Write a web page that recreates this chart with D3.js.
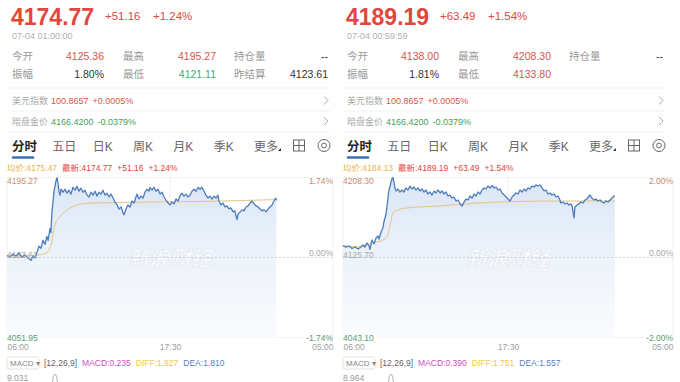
<!DOCTYPE html>
<html lang="zh">
<head>
<meta charset="UTF-8">
<title>分时</title>
<script src="https://cdn.jsdelivr.net/npm/d3@7"></script>
<style>
    body { margin: 0; background: #fff; }
    svg text { font-family: 'Liberation Sans', 'Noto Sans CJK SC', sans-serif; }
</style>
</head>
<body>
<div id="root"></div>
<script>
var width = 680
var height = 382

// minutes counted from 06:00 (session runs to 05:00 next day = 1380 min)
var leftMinutes = [0,13,25,38,51,63,76,89,102,110,118,127,135,144,152,161,169,174,182,186,
    190,195,199,203,207,212,216,220,224,229,237,246,254,262,271,279,288,296,305,313,
    322,330,339,347,356,364,373,381,390,398,406,415,423,432,440,449,457,466,474,483,
    491,495,504,512,521,529,538,546,550,559,567,576,584,593,601,605,614,622,631,639,
    648,656,665,673,682,690,698,707,715,724,732,741,749,758,766,775,783,792,800,809,
    817,825,834,842,851,859,868,876,885,893,897,906,914,923,931,940,948,957,965,969,
    974,978,987,995,1003,1012,1020,1029,1037,1046,1054,1063,1071,1080,1088,1097,1105,1113,1122,1130,
    1138,1140]
var leftPrices = [4125.4,4124.0,4126.5,4124.9,4127.6,4124.0,4125.8,4123.2,4121.1,4124.9,
    4123.2,4128.4,4133.7,4131.9,4139.0,4135.5,4142.5,4139.0,4149.6,4146.0,
    4163.6,4174.2,4183.0,4187.4,4191.8,4195.2,4190.0,4183.0,4179.5,4184.8,
    4182.1,4184.8,4181.2,4183.9,4180.4,4186.5,4183.9,4187.4,4183.0,4185.7,
    4182.1,4183.9,4179.5,4177.8,4182.1,4179.5,4183.0,4178.6,4182.1,4180.4,
    4183.9,4179.5,4181.2,4177.8,4180.4,4176.9,4173.3,4170.7,4167.1,4168.9,
    4163.6,4161.9,4167.1,4170.7,4168.9,4174.2,4172.4,4177.8,4180.4,4176.0,
    4178.6,4176.9,4182.1,4184.8,4183.0,4186.5,4183.9,4186.5,4183.0,4184.8,
    4180.4,4182.1,4177.8,4175.1,4172.4,4170.7,4173.3,4171.6,4176.0,4174.2,
    4178.6,4181.2,4178.6,4180.4,4177.8,4179.5,4183.0,4184.8,4183.0,4186.5,
    4184.8,4186.5,4183.0,4179.5,4176.9,4178.6,4176.0,4178.6,4176.9,4179.5,
    4174.2,4170.7,4172.4,4168.9,4169.8,4167.1,4168.0,4164.5,4165.4,4161.0,
    4157.5,4162.7,4164.5,4166.3,4165.4,4168.9,4169.8,4172.4,4174.2,4171.6,
    4169.8,4168.9,4167.1,4165.4,4166.3,4164.5,4167.1,4168.9,4170.7,4174.2,
    4176.9,4174.77]
var leftAvgMinutes = [0,60,131,174,186,195,203,224,254,296,339,478,817,1140]
var leftAvgPrices = [4125.4,4125.0,4125.8,4128.8,4134.8,4143.8,4152.7,4160.2,4166.2,4170.6,4172.2,4172.9,4173.8,4175.47]

var rightMinutes = [0,13,25,38,50,63,75,84,92,100,109,113,121,130,138,146,151,159,167,171,
    180,184,188,192,197,201,205,209,213,217,222,230,238,247,255,263,272,280,289,297,
    305,314,322,330,339,347,355,364,372,381,389,397,406,414,422,431,439,447,456,464,
    473,481,490,498,506,515,523,531,540,548,556,565,573,581,590,598,606,615,623,632,
    640,648,657,665,674,682,690,699,707,715,723,732,740,749,757,765,774,782,790,799,
    807,815,824,832,841,849,857,866,874,882,891,899,907,911,920,928,937,945,953,958,
    962,966,970,979,987,995,1004,1012,1020,1029,1033,1041,1050,1058,1066,1075,1083,1091,1100,1108,
    1117,1125,1133,1137]
var rightPrices = [4138.0,4136.5,4137.6,4135.0,4136.5,4134.5,4136.5,4138.6,4136.5,4140.7,
    4137.6,4134.0,4143.8,4139.6,4145.8,4147.9,4144.8,4152.0,4156.2,4162.4,
    4170.6,4178.9,4187.1,4195.4,4199.5,4203.7,4206.8,4208.3,4203.7,4197.5,
    4194.4,4196.4,4193.3,4195.4,4193.3,4197.5,4195.4,4199.5,4196.4,4198.5,
    4195.4,4197.5,4194.4,4196.4,4193.3,4195.4,4191.3,4193.3,4190.2,4194.4,
    4192.3,4195.4,4192.3,4194.4,4191.3,4193.3,4189.2,4190.2,4187.1,4188.2,
    4184.0,4185.1,4181.0,4178.9,4183.0,4186.1,4185.1,4189.2,4187.1,4191.3,
    4189.2,4193.3,4191.3,4195.4,4197.5,4196.4,4199.5,4197.5,4200.0,4197.5,
    4198.5,4195.4,4196.4,4192.3,4190.2,4188.2,4186.1,4184.0,4188.2,4190.2,
    4192.3,4191.3,4195.4,4193.3,4196.4,4194.4,4197.5,4196.4,4199.5,4198.5,
    4200.6,4199.5,4200.6,4197.5,4194.4,4195.4,4191.3,4192.3,4190.2,4191.3,
    4188.2,4189.2,4185.1,4182.0,4183.0,4181.0,4182.0,4179.9,4181.0,4178.9,
    4172.7,4166.5,4177.8,4179.9,4181.0,4183.0,4182.0,4185.1,4186.1,4189.2,
    4190.2,4187.1,4185.1,4186.1,4184.0,4185.1,4183.0,4182.0,4184.0,4183.0,
    4185.1,4187.1,4189.2,4189.19]
var rightAvgMinutes = [0,60,125,167,184,197,209,230,268,406,544,615,824,1137]
var rightAvgPrices = [4137.6,4136.8,4141.0,4143.8,4147.2,4159.3,4171.6,4174.7,4176.8,4178.9,4181.7,4182.7,4183.9,4184.13]

var timeTickMinutes = [0, 690, 1380]
var timeTickLabels = ['06:00', '17:30', '05:00']

var tabLabels = ['分时', '五日', '日K', '周K', '月K', '季K', '更多']
var statLabelsLeft = ['今开', '最高', '持仓量', '振幅', '最低', '昨结算']
var statLabelsRight = ['今开', '最高', '持仓量', '振幅', '最低', '']
var statValuesLeft = ['4125.36', '4195.27', '--', '1.80%', '4121.11', '4123.61']
var statValuesRight = ['4138.00', '4208.30', '--', '1.81%', '4133.80', '']

var indexRows = [
    ['美元指数', '100.8657', '+0.0005%'],
    ['暗盘金价', '4166.4200', '-0.0379%']
]

var leftQuote = ['4174.77', '+51.16', '+1.24%', '07-04 01:00:00', '4175.47']
var rightQuote = ['4189.19', '+63.49', '+1.54%', '07-04 00:59:59', '4184.13']

var leftPriceTicks = ['4195.27', '4123.61', '4051.95']
var leftPctTicks = ['1.74%', '0.00%', '-1.74%']
var rightPriceTicks = ['4208.30', '4125.70', '4043.10']
var rightPctTicks = ['2.00%', '0.00%', '-2.00%']

var leftMacd = ['MACD:0.235', 'DIFF:1.927', 'DEA:1.810', '9.031']
var rightMacd = ['MACD:0.390', 'DIFF:1.751', 'DEA:1.557', '8.964']

var red = '#e2463d'
var green = '#3f9f5c'

var svg = d3.select('#root')
    .append('svg')
    .attr('width', width)
    .attr('height', height)

svg.append('rect').attr('width', width).attr('height', height).attr('fill', '#fff')
var defs = svg.append('defs')

// write pieces of text one after another
function seq(g, x, y, items, size) {
    items.forEach(function (it) {
        var t = g.append('text')
            .attr('x', x).attr('y', y)
            .attr('font-size', size)
            .attr('fill', it.c)
            .attr('font-weight', it.w || 'normal')
            .text(it.t)
        x += t.node().getComputedTextLength() + (it.gap || 0)
    })
}

function drawPanel(p) {
    var g = svg.append('g')
    var tx = p.tx
    var prev = +p.priceTicks[1]

    // ---- header
    g.append('text').attr('x', tx - 1).attr('y', 25)
        .attr('font-size', 23).attr('font-weight', 'bold').attr('fill', red)
        .text(p.quote[0])
    g.append('text').attr('x', tx + 93).attr('y', 20).attr('font-size', 11.5).attr('fill', red).text(p.quote[1])
    g.append('text').attr('x', tx + 141).attr('y', 20).attr('font-size', 11.5).attr('fill', red).text(p.quote[2])
    g.append('text').attr('x', tx).attr('y', 39).attr('font-size', 9).attr('fill', '#b0b0b0').text(p.quote[3])

    var labelX = [tx, tx + 111, tx + 222]
    var valueX = [tx + 92, tx + 204, tx + 316]
    p.statLabels.forEach(function (lab, i) {
        var col = i % 3, row = Math.floor(i / 3)
        var yy = row ? 77.5 : 59.5
        g.append('text').attr('x', labelX[col]).attr('y', yy)
            .attr('font-size', 10.5).attr('fill', '#999').text(lab)
        var v = p.statValues[i]
        var c = '#333'
        if (i === 0 || i === 1 || i === 4) c = (+v >= prev) ? '#d9544c' : '#4aa86a'
        g.append('text').attr('x', valueX[col]).attr('y', yy)
            .attr('text-anchor', 'end')
            .attr('font-size', 10.5).attr('fill', c).text(v)
    })

    // dividers
    ;[88, 111, 132].forEach(function (yy) {
        g.append('line').attr('x1', tx - 4).attr('x2', tx + 318)
            .attr('y1', yy).attr('y2', yy).attr('stroke', '#f1f1f1')
    })

    indexRows.forEach(function (r, i) {
        var yy = i ? 124.5 : 104
        var c = r[2][0] === '-' ? green : '#d9544c'
        seq(g, tx, yy, [
            { t: r[0], c: '#aaa', gap: 3 },
            { t: r[1], c: c, gap: 4 },
            { t: r[2], c: c }
        ], 9)
        var cx = tx + 314, cy = yy - 3.5
        g.append('polyline')
            .attr('points', [[cx - 2, cy - 4], [cx + 2, cy], [cx - 2, cy + 4]].join(' '))
            .attr('fill', 'none').attr('stroke', '#aaa').attr('stroke-width', 1)
    })

    // ---- tabs
    var tabX = d3.scalePoint().domain(tabLabels).range([tx, tx + 242])
    tabLabels.forEach(function (t, i) {
        g.append('text').attr('x', tabX(t)).attr('y', 150.5)
            .attr('font-size', i ? 12 : 12.5)
            .attr('font-weight', i ? 'normal' : 'bold')
            .attr('fill', i ? '#666' : '#222')
            .text(t)
    })
    var mx = tabX('更多') + 24
    g.append('path').attr('d', 'M' + mx + ',151 l3,-3 l0,3 z').attr('fill', '#333')
    g.append('line').attr('x1', tx + 1).attr('x2', tx + 21).attr('y1', 157.5).attr('y2', 157.5)
        .attr('stroke', '#3d6fb4').attr('stroke-width', 2.5).attr('stroke-linecap', 'round')
    var ix = tx + 281.5
    g.append('rect').attr('x', ix).attr('y', 140).attr('width', 11).attr('height', 11)
        .attr('fill', 'none').attr('stroke', '#666').attr('stroke-width', 1)
    g.append('path').attr('d', 'M' + (ix + 5.5) + ',140 v11 M' + ix + ',145.5 h11')
        .attr('stroke', '#666').attr('stroke-width', 1)
    g.append('circle').attr('cx', tx + 312).attr('cy', 145.5).attr('r', 6)
        .attr('fill', 'none').attr('stroke', '#666')
    g.append('circle').attr('cx', tx + 312).attr('cy', 145.5).attr('r', 2.4)
        .attr('fill', 'none').attr('stroke', '#666')

    seq(g, p.plotL, 171, [
        { t: '均价:' + p.quote[4], c: '#e8b54f', gap: 5 },
        { t: '最新:' + p.quote[0], c: red, gap: 5 },
        { t: p.quote[1], c: red, gap: 5 },
        { t: p.quote[2], c: red }
    ], 8.5)

    // ---- chart
    var x = d3.scaleLinear().domain([0, 1380]).range([p.plotL, p.plotR])
    var y = d3.scaleLinear()
        .domain([+p.priceTicks[2], +p.priceTicks[0]])
        .range([337.5, 177.5])
    var top = y.range()[1], bottom = y.range()[0]

    var gid = 'fill' + p.id
    var grad = defs.append('linearGradient').attr('id', gid)
        .attr('gradientUnits', 'userSpaceOnUse')
        .attr('x1', 0).attr('x2', 0).attr('y1', top).attr('y2', bottom)
    grad.append('stop').attr('offset', '0%').attr('stop-color', '#dae6f6')
    grad.append('stop').attr('offset', '50%').attr('stop-color', '#edf3fa')
    grad.append('stop').attr('offset', '100%').attr('stop-color', '#fafbfe')

    timeTickMinutes.forEach(function (m) {
        g.append('line').attr('x1', x(m)).attr('x2', x(m)).attr('y1', top).attr('y2', bottom)
            .attr('stroke', '#eef0f4')
    })
    ;[top, bottom].forEach(function (yy) {
        g.append('line').attr('x1', p.plotL).attr('x2', p.plotR).attr('y1', yy).attr('y2', yy)
            .attr('stroke', '#f2f3f5')
    })

    var pts = p.minutes.map(function (m, i) { return [m, p.prices[i]] })
    var avg = p.avgMinutes.map(function (m, i) { return [m, p.avgPrices[i]] })

    g.append('path').datum(pts)
        .attr('fill', 'url(#' + gid + ')')
        .attr('d', d3.area()
            .x(function (d) { return x(d[0]) })
            .y0(bottom)
            .y1(function (d) { return y(d[1]) }))

    g.append('text').attr('x', x(690)).attr('y', 266)
        .attr('text-anchor', 'middle').attr('font-size', 21).attr('font-weight', 'bold')
        .attr('font-style', 'italic')
        .attr('fill', '#ffffff').attr('fill-opacity', 0.85)
        .attr('stroke', '#e2e8f1').attr('stroke-width', 0.6)
        .text('新浪财经')

    g.append('line').attr('x1', p.plotL).attr('x2', p.plotR)
        .attr('y1', y(prev)).attr('y2', y(prev))
        .attr('stroke', '#cfd3d9').attr('stroke-dasharray', '2,2')

    g.append('path').datum(avg)
        .attr('fill', 'none').attr('stroke', '#e6c486').attr('stroke-width', 1)
        .attr('d', d3.line().curve(d3.curveMonotoneX)
            .x(function (d) { return x(d[0]) })
            .y(function (d) { return y(d[1]) }))

    g.append('path').datum(pts)
        .attr('fill', 'none').attr('stroke', '#4d7cbd').attr('stroke-width', 1.3)
        .attr('stroke-linejoin', 'round')
        .attr('d', d3.line()
            .x(function (d) { return x(d[0]) })
            .y(function (d) { return y(d[1]) }))

    // y labels
    var tickCols = ['#cc8a70', '#a8a8a8', '#5c9e6e']
    var tickDy = [6.5, 0.5, 3]
    p.priceTicks.forEach(function (t, i) {
        var yy = y(+t) + tickDy[i]
        g.append('text').attr('x', p.plotL).attr('y', yy)
            .attr('font-size', 8.5).attr('fill', tickCols[i]).text(t)
        g.append('text').attr('x', p.plotR).attr('y', yy - (i === 1 ? 2 : 0))
            .attr('text-anchor', 'end')
            .attr('font-size', 8.5).attr('fill', tickCols[i]).text(p.pctTicks[i])
    })

    // time axis
    var axis = d3.axisBottom(x).tickValues(timeTickMinutes)
        .tickFormat(function (d, i) { return timeTickLabels[i] })
        .tickSize(0).tickPadding(0)
    var ax = g.append('g').attr('transform', 'translate(0,344)').call(axis)
    ax.select('.domain').remove()
    ax.selectAll('text')
        .attr('font-size', 8.5).attr('fill', '#a0a0a0').attr('dy', '0.71em')
        .attr('font-family', "'Liberation Sans', sans-serif")
        .attr('text-anchor', function (d, i) { return ['start', 'middle', 'end'][i] })

    // macd header
    g.append('rect').attr('x', p.plotL).attr('y', 357).attr('width', 32).attr('height', 12)
        .attr('rx', 2).attr('fill', 'none').attr('stroke', '#e2e2e2')
    g.append('text').attr('x', p.plotL + 3).attr('y', 366)
        .attr('font-size', 8).attr('fill', '#888').text('MACD ▾')
    seq(g, p.plotL + 37, 366, [
        { t: '[12,26,9]', c: '#666', gap: 5 },
        { t: p.macd[0], c: '#cf4fbf', gap: 5 },
        { t: p.macd[1], c: '#f0c64e', gap: 5 },
        { t: p.macd[2], c: '#5b80c2' }
    ], 8.5)
    g.append('text').attr('x', p.plotL).attr('y', 381)
        .attr('font-size', 8.5).attr('fill', '#999').text(p.macd[3])
    var ax0 = p.plotL + 48
    g.append('path').attr('d', 'M' + (ax0 - 3) + ',384 Q' + ax0 + ',364 ' + (ax0 + 3) + ',384')
        .attr('fill', 'none').attr('stroke', '#999').attr('stroke-width', 0.8)
}

drawPanel({
    id: 'L', tx: 12, plotL: 7, plotR: 333,
    quote: leftQuote, statLabels: statLabelsLeft, statValues: statValuesLeft,
    minutes: leftMinutes, prices: leftPrices,
    avgMinutes: leftAvgMinutes, avgPrices: leftAvgPrices,
    priceTicks: leftPriceTicks, pctTicks: leftPctTicks, macd: leftMacd
})
drawPanel({
    id: 'R', tx: 347, plotL: 343, plotR: 673,
    quote: rightQuote, statLabels: statLabelsRight, statValues: statValuesRight,
    minutes: rightMinutes, prices: rightPrices,
    avgMinutes: rightAvgMinutes, avgPrices: rightAvgPrices,
    priceTicks: rightPriceTicks, pctTicks: rightPctTicks, macd: rightMacd
})
</script>
</body>
</html>
